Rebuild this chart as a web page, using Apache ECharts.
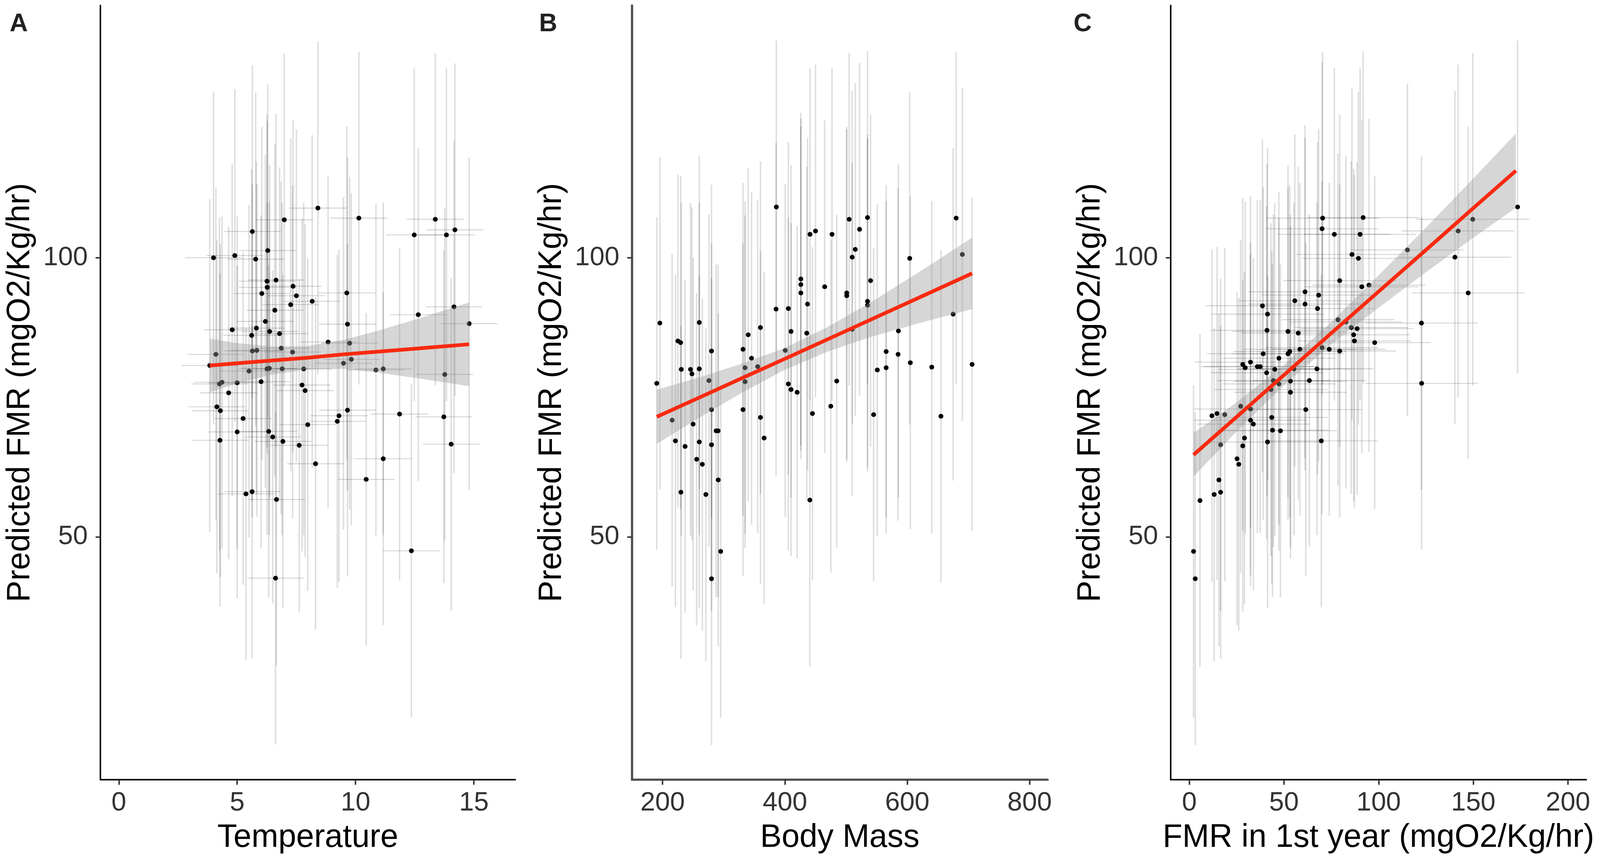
<!DOCTYPE html>
<html>
<head>
<meta charset="utf-8">
<script src="https://cdn.jsdelivr.net/npm/echarts@6/dist/echarts.min.js"></script>
<style>
html, body { margin: 0; padding: 0; background: #fff; overflow: hidden; }
#main { width: 100vw; height: 100vh; }
</style>
</head>
<body>
<div id="main"></div>
<script>
// points, [x, predicted FMR]
var tempPts = [
    [4.0,100.0],[4.9,100.4],[5.78,99.75],[6.29,101.3],[5.64,104.7],[6.99,106.8],[8.41,108.9],[10.14,107.1],[12.48,104.1],[13.37,106.9],[13.84,104.1],[14.2,105.0],
    [6.26,95.8],[6.64,96.0],[6.27,94.7],[6.04,93.6],[7.36,94.9],[7.5,93.2],[7.26,91.6],[8.17,92.2],[9.63,93.7],[6.59,90.6],[6.19,88.6],[12.65,89.8],[14.16,91.2],[14.8,88.2],
    [4.79,87.1],[5.81,87.4],[5.61,86.1],[6.37,86.8],[6.79,86.4],[9.66,88.1],[8.84,84.9],[9.75,84.7],[6.86,83.8],[5.64,83.3],[5.83,83.4],[7.34,83.1],[4.1,82.7],[9.82,81.8],[9.49,81.1],[3.84,80.7],
    [5.5,79.7],[6.26,80.1],[6.36,80.2],[6.9,80.1],[7.81,80.1],[10.86,79.9],[11.17,80.1],[13.77,79.1],
    [4.25,77.4],[4.36,77.7],[5.0,77.6],[6.01,77.8],[7.74,77.2],[7.87,76.2],[4.64,75.8],[4.14,73.3],[4.29,72.6],[5.25,71.2],[7.98,70.1],[9.3,71.7],[9.23,70.7],[9.66,72.7],[11.86,72.0],[13.73,71.5],
    [5.0,68.8],[6.33,68.9],[4.27,67.3],[6.5,67.9],[6.93,67.1],[7.62,66.4],[14.04,66.6],[8.31,63.1],[11.17,64.0],[10.45,60.3],[5.37,57.7],[5.63,58.1],[6.66,56.7],[12.36,47.5],[6.62,42.6]
];
var massPts = [
    [386,109.1],[505,106.9],[535,107.2],[680,107.1],[522,105.1],[441,104.2],[450,104.8],[477,104.2],[515,101.5],[510,100.1],[604,99.9],[690,100.6],
    [426,96.2],[426,95.2],[426,93.7],[540,95.9],[465,94.8],[501,93.7],[501,93.2],[437,91.7],[535,92.2],[535,91.5],[385.5,90.8],[405.6,90.9],[675,89.9],
    [195.5,88.3],[260,88.4],[360,87.5],[410,86.8],[435.7,86.5],[510,87.2],[585.5,86.9],[340,86.2],[225,85.1],[229.5,84.8],[331.5,83.6],[280,83.3],[400.5,83.4],[345.4,82.0],[565.5,83.2],[585,82.7],
    [334.8,80.3],[355.4,80.5],[230.6,80.0],[245.7,80.0],[260,80.1],[248,79.2],[551,79.9],[565.5,80.3],[605,81.2],[640,80.4],[706,80.9],
    [190.5,77.5],[275.8,78.0],[334.8,77.8],[484.7,77.9],[405.6,77.4],[410,76.4],[420,75.9],[475,73.4],[280,72.8],[331.5,72.8],[445,72.1],[360,71.4],[545,71.9],[655,71.6],[215.6,70.9],[250,70.2],[287.5,69.0],[290.8,69.0],
    [221,67.2],[236.8,66.2],[260,67.0],[280,66.5],[366,67.7],[255.7,63.9],[265,63.0],[291,60.2],[230,58.0],[270.8,57.6],[440.7,56.6],[295,47.4],[280,42.5]
];
var fmr1Pts = [
    [70.4,107.1],[91.8,107.2],[70.1,105.2],[76.6,104.2],[90.2,104.2],[173.4,109.1],[149.7,106.9],[142.0,104.8],[115.2,101.4],[85.9,100.6],[89.3,99.9],[140.3,100.1],
    [79.4,95.9],[91.1,94.8],[94.9,95.1],[61.1,93.9],[68.3,93.3],[147.3,93.7],[55.7,92.3],[61.1,91.7],[38.6,91.4],[67.7,90.9],[41.3,89.9],[78.5,88.9],[82.7,88.5],[122.6,88.3],
    [41.0,87.0],[52.1,86.8],[57.5,86.5],[85.5,87.5],[88.6,87.3],[86.8,86.2],[87.2,85.1],[97.9,84.8],[70.1,83.9],[73.9,83.6],[79.4,83.3],[58.4,83.6],[53.0,83.2],[52.1,82.8],[39.0,82.8],[47.3,82.0],
    [28.2,80.9],[32.3,81.3],[29.5,80.3],[35.9,80.5],[37.4,80.5],[45.1,80.0],[55.3,80.1],[67.4,80.1],[40.8,79.4],[44.4,78.0],[53.4,77.9],[63.4,78.0],[47.3,77.4],[43.1,76.4],[53.4,75.9],[122.7,77.5],
    [27.1,73.4],[32.3,72.9],[61.5,72.8],[11.9,71.7],[14.6,72.1],[18.7,71.9],[32.3,70.9],[33.8,70.2],[43.5,71.4],[43.9,69.1],[48.1,69.0],
    [29.1,67.7],[28.2,66.3],[41.3,67.0],[69.7,67.2],[16.5,66.5],[25.2,64.0],[26.1,63.0],[15.6,60.2],[13.1,57.6],[16.5,58.0],[5.6,56.5],[2.2,47.4],[3.1,42.5]
];

// error bar half widths (same size for every fish)
var errY = 29.8;
var errTemp = 1.2;
var errFmr1 = 29.8;
// panel C x limits: bars that run past them are dropped, as in the figure
var fmr1Lim = [0, 200];

// fitted line and its grey ribbon, read at a few x positions
var tempFitX = [3.84, 5, 6.5, 8, 9.5, 11, 12.5, 14.8];
var tempFitY = [80.7, 81.1, 81.6, 82.1, 82.7, 83.2, 83.7, 84.5];
var tempFitLo = [75.9, 77.5, 79.1, 80.0, 80.1, 79.4, 78.5, 77.0];
var tempFitHi = [85.5, 84.7, 84.1, 84.2, 85.3, 87.0, 88.9, 92.0];

var massFitX = [190.5, 260, 330, 400, 470, 540, 620, 706];
var massFitY = [71.5, 74.96, 78.45, 81.9, 85.4, 88.9, 92.9, 97.2];
var massFitLo = [66.65, 71.36, 75.85, 79.95, 83.2, 85.8, 88.3, 90.8];
var massFitHi = [76.35, 78.56, 81.05, 83.85, 87.6, 92.0, 97.5, 103.6];

var fmr1FitX = [2.2, 25, 50, 75, 100, 125, 150, 172.5];
var fmr1FitY = [64.7, 71.5, 79.0, 86.5, 93.96, 101.4, 108.9, 115.6];
var fmr1FitLo = [60.8, 68.9, 77.2, 84.5, 91.06, 97.4, 103.6, 108.95];
var fmr1FitHi = [68.6, 74.1, 80.8, 88.5, 96.86, 105.4, 114.2, 122.25];

// axis ticks
var yTicks = [50, 100];
var tempTicks = [0, 5, 10, 15];
var massTicks = [200, 400, 600, 800];
var fmr1Ticks = [0, 50, 100, 150, 200];

var FONT = '"Liberation Sans", Arial, sans-serif';
var dom = document.getElementById('main');
// layout is measured on the 4319 x 2217 picture; scale it to the real viewport
var sx = dom.clientWidth / 4319;
var sy = dom.clientHeight / 2217;
function px(v) { return v * sx; }
function py(v) { return v * sy; }

var chart = echarts.init(dom, null, {renderer: 'canvas'});

function vBar(params, api) {
    var a = api.coord([api.value(0), api.value(1)]);
    var b = api.coord([api.value(0), api.value(2)]);
    return {
        type: 'line',
        shape: {x1: a[0], y1: a[1], x2: b[0], y2: b[1]},
        style: {stroke: 'rgba(0,0,0,0.13)', lineWidth: px(4)}
    };
}

function hBar(params, api) {
    var a = api.coord([api.value(1), api.value(0)]);
    var b = api.coord([api.value(2), api.value(0)]);
    return {
        type: 'line',
        shape: {x1: a[0], y1: a[1], x2: b[0], y2: b[1]},
        style: {stroke: 'rgba(0,0,0,0.17)', lineWidth: px(2.5)}
    };
}

function ribbon(xs, lo, hi) {
    return function (params, api) {
        if (params.dataIndex !== 0) return;
        var pts = [];
        for (var i = 0; i < xs.length; i++) pts.push(api.coord([xs[i], hi[i]]));
        for (var j = xs.length - 1; j >= 0; j--) pts.push(api.coord([xs[j], lo[j]]));
        return {type: 'polygon', shape: {points: pts}, style: {fill: 'rgba(153,153,153,0.4)'}};
    };
}

function panelSeries(idx, pts, errX, xLim, fx, fy, flo, fhi) {
    var series = [];
    series.push({
        type: 'custom', xAxisIndex: idx, yAxisIndex: idx, z: 1,
        renderItem: vBar, encode: {x: 0, y: [1, 2]},
        data: pts.map(function (p) { return [p[0], p[1] - errY, p[1] + errY]; })
    });
    if (errX) {
        var hd = [];
        pts.forEach(function (p) {
            var lo = p[0] - errX, hi = p[0] + errX;
            if (xLim && (lo < xLim[0] || hi > xLim[1])) return;
            hd.push([p[1], lo, hi]);
        });
        series.push({
            type: 'custom', xAxisIndex: idx, yAxisIndex: idx, z: 1,
            renderItem: hBar, encode: {x: [1, 2], y: 0},
            data: hd
        });
    }
    series.push({
        type: 'scatter', xAxisIndex: idx, yAxisIndex: idx, z: 2,
        symbolSize: px(13), itemStyle: {color: '#000', opacity: 1},
        data: pts
    });
    series.push({
        type: 'custom', xAxisIndex: idx, yAxisIndex: idx, z: 3,
        renderItem: ribbon(fx, flo, fhi), encode: {x: 0, y: [1, 2]},
        data: fx.map(function (x, i) { return [x, flo[i], fhi[i]]; })
    });
    series.push({
        type: 'line', xAxisIndex: idx, yAxisIndex: idx, z: 4,
        symbol: 'none', lineStyle: {color: '#f82a10', width: px(10)},
        data: fx.map(function (x, i) { return [x, fy[i]]; })
    });
    return series;
}

var grids = [
    {left: px(271), top: py(14), width: px(1120), height: py(1982)},
    {left: px(1706), top: py(14), width: px(1122), height: py(1982)},
    {left: px(3160), top: py(14), width: px(1122), height: py(1982)}
];

// panel B's axis lines come out greyer and heavier in the figure
var axisLines = [
    {color: '#000', width: 4},
    {color: '#4d4d4d', width: 6},
    {color: '#000', width: 4}
];

function xAxis(idx, min, max, ticks, name) {
    return {
        type: 'value', gridIndex: idx, min: min, max: max,
        name: name, nameLocation: 'middle', nameGap: py(108),
        nameTextStyle: {fontFamily: FONT, fontSize: px(87), color: '#000'},
        splitLine: {show: false},
        axisLine: {onZero: false, lineStyle: {color: axisLines[idx].color, width: px(axisLines[idx].width)}},
        axisTick: {customValues: ticks, length: py(13), lineStyle: {color: '#333', width: px(4)}},
        axisLabel: {customValues: ticks, margin: py(26), fontFamily: FONT, fontSize: px(72), color: '#333'}
    };
}

function yAxis(idx) {
    return {
        type: 'value', gridIndex: idx, min: 6.5, max: 145.2,
        name: 'Predicted FMR (mgO2/Kg/hr)', nameLocation: 'middle', nameGap: px(172),
        nameTextStyle: {fontFamily: FONT, fontSize: px(87), color: '#000'},
        splitLine: {show: false},
        axisLine: {onZero: false, lineStyle: {color: axisLines[idx].color, width: px(axisLines[idx].width)}},
        axisTick: {customValues: yTicks, length: px(13), lineStyle: {color: '#333', width: px(4)}},
        axisLabel: {customValues: yTicks, margin: px(34), fontFamily: FONT, fontSize: px(72), color: '#333'}
    };
}

var series = []
    .concat(panelSeries(0, tempPts, errTemp, null, tempFitX, tempFitY, tempFitLo, tempFitHi))
    .concat(panelSeries(1, massPts, 0, null, massFitX, massFitY, massFitLo, massFitHi))
    .concat(panelSeries(2, fmr1Pts, errFmr1, fmr1Lim, fmr1FitX, fmr1FitY, fmr1FitLo, fmr1FitHi));

function letter(t, x) {
    return {type: 'text', left: px(x), top: py(30),
        style: {text: t, fontFamily: FONT, fontSize: px(68), fontWeight: 'bold', fill: '#222'}};
}

var option = {
    backgroundColor: '#fff',
    animation: false,
    grid: grids,
    xAxis: [
        xAxis(0, -0.78, 16.75, tempTicks, 'Temperature'),
        xAxis(1, 150, 829.5, massTicks, 'Body Mass'),
        xAxis(2, -9.9, 209.7, fmr1Ticks, 'FMR in 1st year (mgO2/Kg/hr)')
    ],
    yAxis: [yAxis(0), yAxis(1), yAxis(2)],
    graphic: [letter('A', 26), letter('B', 1455), letter('C', 2898)],
    series: series
};
chart.setOption(option);
</script>
</body>
</html>
